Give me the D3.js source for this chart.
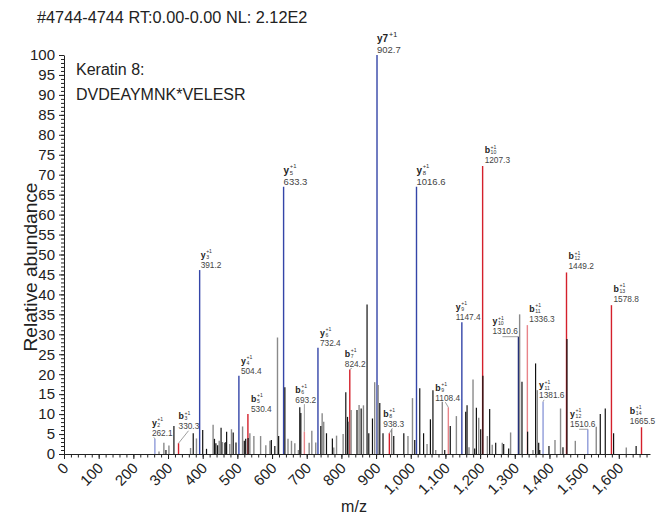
<!DOCTYPE html>
<html>
<head>
<meta charset="utf-8">
<script src="https://cdn.jsdelivr.net/npm/d3@7"></script>
<style>
body { margin: 0; background: #fff; }
text { font-family: "Liberation Sans", Arial, Helvetica, sans-serif; }
</style>
</head>
<body>
<div id="graphicContainer"></div>
<script>

// matched fragment ions (b / y series)
var ionNames = ["y2","b3","y3","y4","b5","y5","b6","y6","b7","y7","b8","y8","b9","y9","b10","y10","b11","y11","b12","y12","b13","b14"]
var ionMz = [262.1,330.3,391.2,504.4,530.4,633.3,693.2,732.4,824.2,902.7,938.3,1016.6,1108.4,1147.4,1207.3,1310.6,1336.3,1381.6,1449.2,1510.6,1578.8,1665.5]
var ionAbund = [3.8,2.7,46.1,19.6,10,67,5.6,26.6,21.2,100,5.2,67,11.7,33,72.2,29.4,32.3,13.1,45.5,6.2,37.3,6.7]

// unmatched peaks, black
var blackMz = [294,317,372.7,400,411,434,438,443,453,464,467,469,488,496,520,524,531,598,608,619,637,680,683,740.6,757,774,812.7,817.6,845,857,874,879,889.6,910.7,920,951,980,1011.5,1026,1037,1056.7,1064,1098,1114,1158.5,1162.4,1184.4,1189.3,1201.7,1208,1227.6,1245,1268,1282.4,1320.8,1337,1360,1369,1372,1398.6,1439,1450.5,1546.6,1561,1585,1650]
var blackAbund = [1,7,5.2,6,1.3,3.8,2.7,2.2,6.6,2.8,3,5.6,5.4,2.9,3.3,3.8,4,3.5,2,4.5,16.7,11.7,10.3,7,5.2,3.9,15.5,9.3,11,11.4,37.5,5.2,8.9,12.8,5.2,4.5,5.2,3.5,16.5,5.2,8.7,16,1,7,10.6,12.2,1.4,11.6,6.2,19.6,11.3,2.8,2.5,1.4,18.1,5.6,22.7,2.8,1,2,1.7,28.8,10,11.4,5.2,2]

// unmatched peaks, grey
var greyMz = [274,288,302.6,365,382,430,447.6,457,478,483,515,536,547.6,567,582,594,615.7,646,656,665.7,676,707,714.7,726,744.5,749,778,786,805,821,828,851,863.6,896,906,945,992,1005,1047,1072,1091,1131.6,1168,1179.6,1196,1221,1235,1264,1288,1314,1352.5,1365,1416,1432,1474.6,1535,1621.6]
var greyAbund = [0.6,2.8,2.1,1.5,3.9,7.3,3.3,3,2.5,6.2,6.9,5.2,4.5,4.5,2.2,3.3,29.2,3.8,3.3,2.7,1,2.8,5.8,2.9,10.2,8.1,1.6,4.6,5,8.1,11,12.3,12.2,18,17.3,6.2,4.5,14,2.5,1,13.1,9.5,1.7,18.7,9.1,4.5,2.3,2.8,5.4,35,1,16,3.5,11.4,3.3,6.8,1.6]

var xTicks = d3.range(0, 1601, 100)
var yTicks = d3.range(0, 101, 5)

var title = "#4744-4744 RT:0.00-0.00 NL: 2.12E2"
var protein = "Keratin 8:"
var peptide = "DVDEAYMNK*VELESR"

// label placement (px offsets from the peak top) and leader lines
var labelDx = {y2:-3,b3:0,y3:1,y4:2,b5:3,y5:0,b6:-9,y6:2,b7:-5,y7:0,b8:-6,y8:0,b9:-13,y9:-6,b10:2,y10:-26,b11:2,y11:-4,b12:2,y12:-17.7,b13:2,b14:-11.7}
var labelDy = {y2:-3,b3:-14,y3:-2,y4:-2,b5:-2.5,y5:-1.5,b6:-29,y6:-2,b7:-2.6,y7:-1.6,b8:-6.6,y8:-1.5,b9:-6.6,y9:-2.3,b10:-2.7,y10:-2.4,b11:-3.6,y11:-3.4,b12:-3.3,y12:-2.6,b13:-3.3,b14:-3.3}
var leaders = {y2:["d",2],b3:["d",10],b6:["d",9],b7:["d",7],b8:["d",9],b9:["d",10],y10:["h",10],y11:["d",5],y12:["h",9]}
var paleIons = ["y2","y11","y12","b6","b9","b11"]
var bigLabels = ["y5","y7","y8"]

function init() {

	var width = 656, height = 517
	var margin = {top: 55, right: 6, bottom: 63, left: 64}

	d3.select("#graphicContainer svg").remove()

	var svg = d3.select("#graphicContainer").append("svg")
		.attr("width", width)
		.attr("height", height)

	var x = d3.scaleLinear()
		.domain([0, 1690])
		.range([margin.left, width - margin.right])

	var y = d3.scaleLinear()
		.domain([0, 100])
		.range([height - margin.bottom, margin.top])

	var y0 = y(0)

	svg.append("text")
		.attr("x", 37).attr("y", 23)
		.attr("font-size", 16.3).attr("fill", "#222")
		.text(title)

	svg.append("text")
		.attr("x", 76).attr("y", 75)
		.attr("font-size", 16).attr("fill", "#222")
		.text(protein)

	svg.append("text")
		.attr("x", 76).attr("y", 100)
		.attr("font-size", 16).attr("fill", "#222")
		.text(peptide)

	// colored ion peaks go first, unmatched peaks sit on top of them
	function ionColor(n) {
		var pale = paleIons.indexOf(n) > -1
		if (n == "y10") return "#1d2a7a"
		if (n[0] == "y") return pale ? "#8f9bd9" : "#3445a8"
		return pale ? "#e88489" : "#d4202b"
	}

	var ions = ionNames.map(function(n, i) { return {name: n, mz: ionMz[i], ab: ionAbund[i]} })

	svg.append("g").selectAll("line")
		.data(ions)
		.enter()
		.append("line")
		.attr("x1", d => x(d.mz)).attr("x2", d => x(d.mz))
		.attr("y1", y0).attr("y2", d => y(d.ab))
		.attr("stroke", d => ionColor(d.name))
		.attr("stroke-width", 1.4)

	svg.append("g").selectAll("line")
		.data(greyMz)
		.enter()
		.append("line")
		.attr("x1", d => x(d)).attr("x2", d => x(d))
		.attr("y1", y0).attr("y2", (d, i) => y(greyAbund[i]))
		.attr("stroke", "#8a8a8a")
		.attr("stroke-width", 1.4)

	svg.append("g").selectAll("line")
		.data(blackMz)
		.enter()
		.append("line")
		.attr("x1", d => x(d)).attr("x2", d => x(d))
		.attr("y1", y0).attr("y2", (d, i) => y(blackAbund[i]))
		.attr("stroke", "#111")
		.attr("stroke-width", 1.2)

	// peak labels
	var labels = svg.append("g")

	ions.forEach(function(d) {
		var px = x(d.mz), top = y(d.ab)
		var lx = px + labelDx[d.name]
		var base = top + labelDy[d.name]
		var fs = bigLabels.indexOf(d.name) > -1 ? 9.5 : 8.3

		var ld = leaders[d.name]
		if (ld) {
			var sx = lx + ld[1]
			var line = ld[0] == "h" ? [[sx, top], [px, top]] : [[sx, base + 1.5], [px, top]]
			labels.append("path")
				.attr("d", d3.line()(line))
				.attr("fill", "none")
				.attr("stroke", "#888")
				.attr("stroke-width", 0.8)
		}

		labels.append("text")
			.attr("x", lx).attr("y", base)
			.attr("font-size", fs).attr("fill", "#444")
			.text(d.mz.toFixed(1))

		var iy = base - fs * 1.2
		var letter = d.name[0], idx = d.name.slice(1)

		if (d.name == "y7") {
			labels.append("text")
				.attr("x", lx).attr("y", iy)
				.attr("font-size", fs + 0.5).attr("font-weight", "bold").attr("fill", "#222")
				.text("y7")
			labels.append("text")
				.attr("x", lx + 12).attr("y", iy - 5)
				.attr("font-size", fs * 0.75).attr("fill", "#222")
				.text("+1")
			return
		}

		var lw = (letter == "b" ? 0.611 : 0.556) * (fs + 0.5)
		labels.append("text")
			.attr("x", lx).attr("y", iy)
			.attr("font-size", fs + 0.5).attr("font-weight", "bold").attr("fill", "#222")
			.text(letter)
		labels.append("text")
			.attr("x", lx + lw + 0.6).attr("y", iy - fs * 0.56)
			.attr("font-size", fs * 0.62).attr("fill", "#333")
			.text("+1")
		labels.append("text")
			.attr("x", lx + lw + 0.6).attr("y", iy + fs * 0.14)
			.attr("font-size", fs * 0.62).attr("fill", "#333")
			.text(idx)
	})

	// axes
	var xMinor = svg.append("g")
		.attr("transform", "translate(0," + y0 + ")")
		.call(d3.axisBottom(x).tickValues(d3.range(0, 1690, 20)).tickSize(3.5).tickFormat(""))
	xMinor.select(".domain").remove()

	var xAxis = svg.append("g")
		.attr("transform", "translate(0," + y0 + ")")
		.call(d3.axisBottom(x).tickValues(xTicks).tickSize(5).tickSizeOuter(0).tickFormat(d3.format(",")))

	xAxis.selectAll("text")
		.attr("x", 5).attr("y", 15).attr("dy", 0)
		.attr("text-anchor", "end")
		.attr("transform", "rotate(-45 5 15)")

	var yMinor = svg.append("g")
		.attr("transform", "translate(" + margin.left + ",0)")
		.call(d3.axisLeft(y).tickValues(d3.range(0, 101, 1)).tickSize(3).tickFormat(""))
	yMinor.select(".domain").remove()

	var yAxis = svg.append("g")
		.attr("transform", "translate(" + margin.left + ",0)")
		.call(d3.axisLeft(y).tickValues(yTicks).tickSize(5).tickSizeOuter(0).tickPadding(4))

	svg.selectAll(".tick text")
		.attr("font-size", 15)
		.attr("font-family", "Liberation Sans, Arial, sans-serif")
		.attr("fill", "#222")

	svg.selectAll(".domain, .tick line").attr("stroke", "#222")

	// axis title sized so it spans the same height as in the original figure
	var yTitle = svg.append("text")
		.attr("transform", "translate(36.5,267) rotate(-90)")
		.attr("text-anchor", "middle")
		.attr("font-size", 15).attr("fill", "#222")
		.text("Relative abundance")
	var len = yTitle.node().getComputedTextLength()
	yTitle.attr("font-size", 15 * 169 / len)

	svg.append("text")
		.attr("x", 354).attr("y", 512)
		.attr("text-anchor", "middle")
		.attr("font-size", 16).attr("fill", "#222")
		.text("m/z")
}

init()

</script>
</body>
</html>
